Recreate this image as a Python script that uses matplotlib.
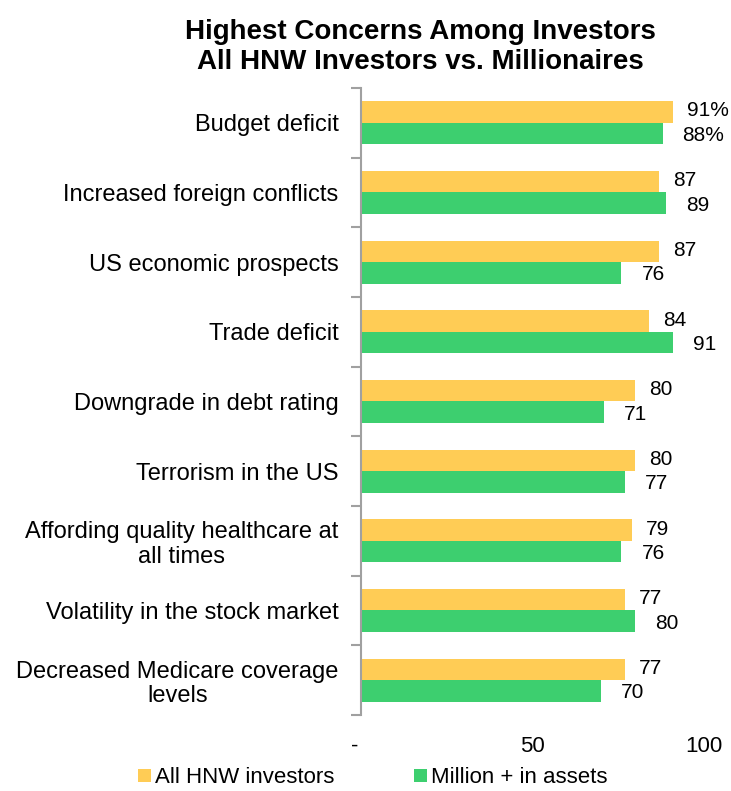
import numpy as np
import matplotlib.pyplot as plt

plt.rcParams['font.family'] = ['Liberation Sans', 'DejaVu Sans']

categories = [
    'Budget deficit',
    'Increased foreign conflicts',
    'US economic prospects',
    'Trade deficit',
    'Downgrade in debt rating',
    'Terrorism in the US',
    'Affording quality healthcare at\nall times',
    'Volatility in the stock market',
    'Decreased Medicare coverage\nlevels',
]
all_hnw = [91, 87, 87, 84, 80, 80, 79, 77, 77]
millionaires = [88, 89, 76, 91, 71, 77, 76, 80, 70]
x_ticks = [0, 50, 100]
x_tick_labels = ['-  ', '50', '100']

yellow = '#FFCC55'
green = '#3DCF6F'

fig = plt.figure(figsize=(7.31, 7.91), dpi=100)
ax = fig.add_axes([0.4934, 0.0961, 0.4693, 0.7927])

y = np.arange(len(categories))
h = 0.31
ax.barh(y - h / 2, all_hnw, height=h, color=yellow, label='All HNW investors')
ax.barh(y + h / 2, millionaires, height=h, color=green, label='Million + in assets')

# value labels, first row carries the percent sign
for i, (a, m) in enumerate(zip(all_hnw, millionaires)):
    sfx = '%' if i == 0 else ''
    ax.annotate(f'{a}{sfx}', (a, y[i] - h / 2), xytext=(14, 1), textcoords='offset pixels',
                va='center', ha='left', fontsize=15)
    ax.annotate(f'{m}{sfx}', (m, y[i] + h / 2), xytext=(20, -2), textcoords='offset pixels',
                va='center', ha='left', fontsize=15)

ax.set_xlim(0, 100)
ax.set_ylim(len(categories) - 0.5, -0.5)
ax.set_xticks(x_ticks)
ax.set_xticklabels(x_tick_labels, fontsize=16)
ax.tick_params(axis='x', length=0, pad=15)

ax.set_yticks(np.arange(len(categories) + 1) - 0.5, minor=True)
ax.set_yticks(y)
ax.set_yticklabels(categories, fontsize=17, ha='right', multialignment='center',
                   linespacing=1.15)
ax.tick_params(axis='y', which='major', length=0, pad=16)
ax.tick_params(axis='y', which='minor', length=7, width=1.5, color='#A0A0A0')

for side in ['top', 'right', 'bottom']:
    ax.spines[side].set_visible(False)
ax.spines['left'].set_color('#A0A0A0')
ax.spines['left'].set_linewidth(1.5)

fig.text(420 / 731, 0.9406, 'Highest Concerns Among Investors\nAll HNW Investors vs. Millionaires',
         ha='center', va='center', fontsize=20, fontweight='bold', linespacing=1.17)

ax.legend(loc='center', bbox_to_anchor=(373 / 731, 0.0165), bbox_transform=fig.transFigure,
          ncol=2, frameon=False, fontsize=16, handlelength=0.55, handleheight=0.55,
          handletextpad=0.2, columnspacing=3.6, borderpad=0, borderaxespad=0)

fig.savefig('out.png', dpi=100)
